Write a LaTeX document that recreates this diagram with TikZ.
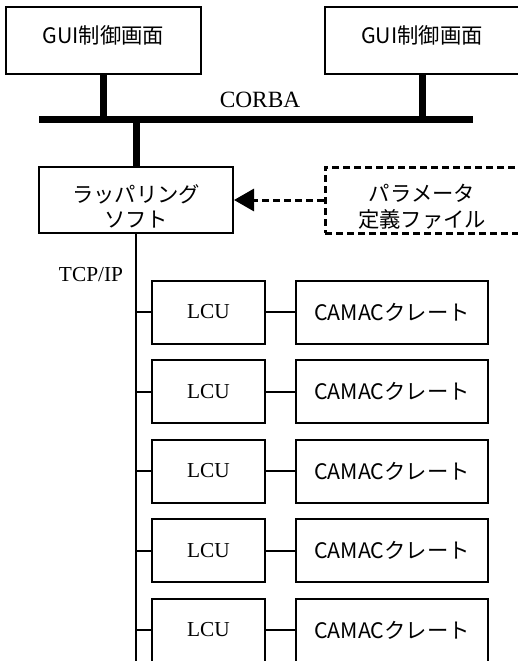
\documentclass[tikz,border=0pt]{standalone}
\usepackage{fontspec}
\setmainfont{Liberation Serif}
\newfontfamily\jpfont{Noto Sans CJK JP}
\usetikzlibrary{arrows.meta,positioning}

\begin{document}
\begin{tikzpicture}[x=.75pt,y=-.75pt,
  box/.style={draw,line width=1.5pt,inner sep=0pt,minimum height=47.25pt},
  jp/.style={font=\jpfont\fontsize{16}{19}\selectfont},
  lat/.style={font=\fontsize{16}{19}\selectfont},
  bus/.style={line width=5.25pt},
  wire/.style={line width=1.5pt},
  dashline/.style={line width=2.25pt,dash pattern=on 5.25pt off 3pt}]
\useasboundingbox (0,0) rectangle (518,661);
\clip (0,0) rectangle (518,661);
% GUI side and CORBA bus
\node[box,jp,minimum width=146.25pt,minimum height=50.25pt,text height=14pt,text depth=10pt] (gui1) at (103.5,40.5) {GUI制御画面};
\node[box,jp,minimum width=146.25pt,minimum height=50.25pt,text height=14pt,text depth=10pt] (gui2) at (422,40.5) {GUI制御画面};
\coordinate (busl) at (39,119.5); \coordinate (busr) at (473,119.5);
\draw[bus] (busl)--(busr);
\node[font=\fontsize{17.5}{20}\selectfont] (corba) at (260,100) {CORBA};
\draw[bus] (gui1.south)--(gui1.south |- busl);
\draw[bus] (gui2.south)--(gui2.south |- busl);
% wrapper and parameter file
\node[box,minimum width=145.5pt,minimum height=49.5pt,
  label={[jp,align=center,yshift=-5pt]center:ラッパリング\\ソフト}] (wrap) at (136,200) {};
\draw[bus] (wrap.north)--(wrap.north |- busl);
\node[draw,dashline,inner sep=0pt,minimum width=145.5pt,minimum height=49.5pt,
  label={[jp,align=center,yshift=-5pt]center:パラメータ\\定義ファイル}] (param) at (422,200) {};
\draw[dashline,-{Triangle[length=15pt,width=16.5pt]}] (param.west)--(wrap.east);
% TCP/IP line with LCU and CAMAC crates
\coordinate (tcpend) at (136,670);
\draw[wire] (wrap.south)--(tcpend);
\node[lat] (tcp) at (91,275) {TCP/IP};
\foreach \i/\y in {1/312,2/391.5,3/471,4/550.5,5/630}{
  \node[box,lat,minimum width=84.75pt] (lcu\i) at (208.5,\y) {LCU};
  \node[box,jp,minimum width=144pt] (camac\i) at (392,\y) {CAMACクレート};
  \draw[wire] (lcu\i.west)--(lcu\i.west -| tcpend);
  \draw[wire] (lcu\i.east)--(camac\i.west);
}
\end{tikzpicture}
\end{document}
